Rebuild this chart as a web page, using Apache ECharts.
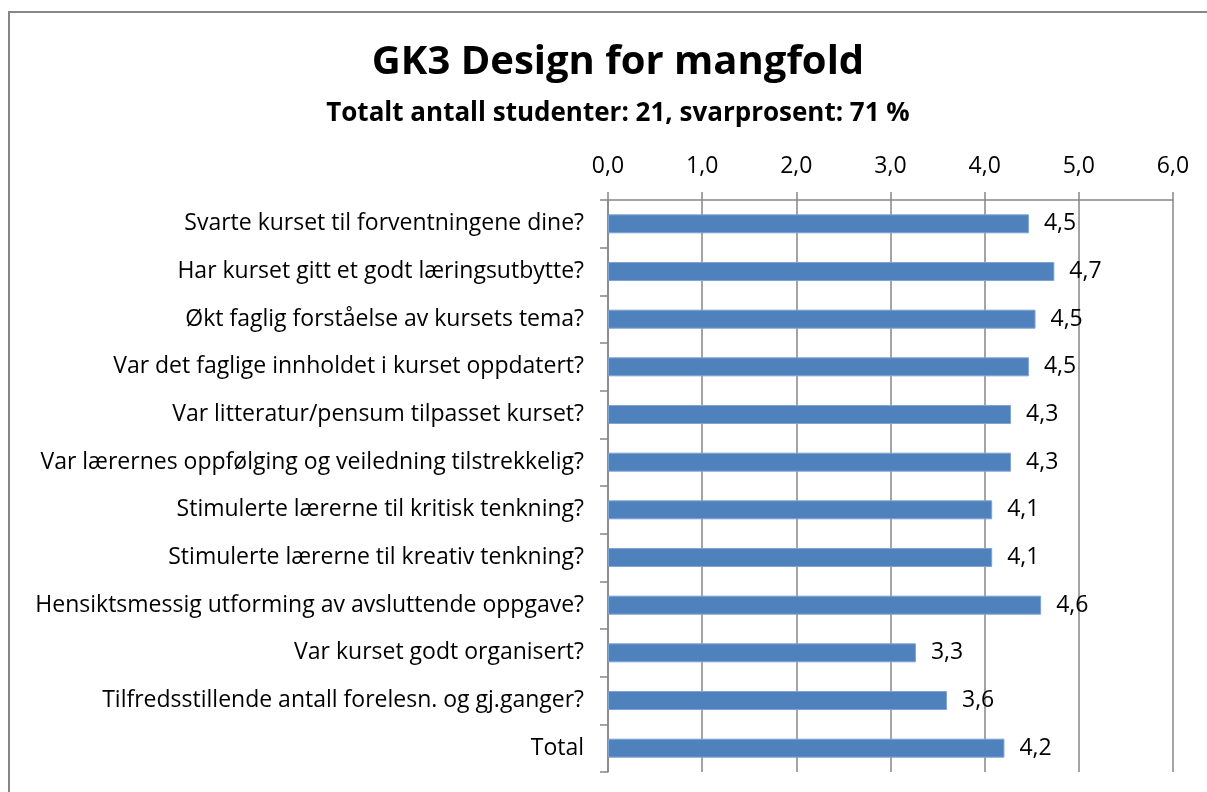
<!DOCTYPE html>
<html>
<head>
<meta charset="utf-8">
<script src="https://cdn.jsdelivr.net/npm/echarts@6/dist/echarts.min.js"></script>
<style>
  html, body { margin: 0; padding: 0; background: #fff; }
  #chart { width: 1207px; height: 792px; }
</style>
</head>
<body>
<div id="chart"></div>
<script>
var questions = [
    'Svarte kurset til forventningene dine?',
    'Har kurset gitt et godt læringsutbytte?',
    'Økt faglig forståelse av kursets tema?',
    'Var det faglige innholdet i kurset oppdatert?',
    'Var litteratur/pensum tilpasset kurset?',
    'Var lærernes oppfølging og veiledning tilstrekkelig?',
    'Stimulerte lærerne til kritisk tenkning?',
    'Stimulerte lærerne til kreativ tenkning?',
    'Hensiktsmessig utforming av avsluttende oppgave?',
    'Var kurset godt organisert?',
    'Tilfredsstillende antall forelesn. og gj.ganger?',
    'Total'
];
var scores = [4.47, 4.74, 4.54, 4.47, 4.28, 4.28, 4.08, 4.08, 4.60, 3.27, 3.60, 4.21];
var axisTicks = [0, 1, 2, 3, 4, 5, 6];

function comma(v) {
    return Number(v).toFixed(1).replace('.', ',');
}

var chart = echarts.init(document.getElementById('chart'));
var gray = '#868686';
var font = '"Open Sans", "Noto Sans", sans-serif';

var option = {
    backgroundColor: '#fff',
    textStyle: { fontFamily: font },
    title: {
        text: 'GK3 Design for mangfold',
        subtext: 'Totalt antall studenter: 21, svarprosent: 71 %',
        left: 613,
        textAlign: 'center',
        top: 38,
        itemGap: 18,
        textStyle: { fontSize: 40, fontWeight: 'bold', color: '#000', fontFamily: font },
        subtextStyle: { fontSize: 26, fontWeight: 'bold', color: '#000', fontFamily: font }
    },
    graphic: [{
        type: 'rect',
        shape: { x: 9, y: 12, width: 1300, height: 900 },
        style: { fill: null, stroke: gray, lineWidth: 2 },
        silent: true
    }],
    grid: { left: 608, right: 34, top: 200, bottom: 20 },
    xAxis: {
        type: 'value',
        position: 'top',
        min: axisTicks[0],
        max: axisTicks[axisTicks.length - 1],
        interval: 1,
        axisLine: { show: true, lineStyle: { color: gray, width: 1.5 } },
        axisTick: { show: true, length: 8, lineStyle: { color: gray, width: 1.5 } },
        splitLine: { show: true, lineStyle: { color: gray, width: 1.5 } },
        axisLabel: { fontSize: 23, color: '#000', margin: 22, formatter: comma }
    },
    yAxis: {
        type: 'category',
        inverse: true,
        data: questions,
        axisLine: { show: true, lineStyle: { color: gray, width: 1.5 } },
        axisTick: { show: true, length: 8, lineStyle: { color: gray, width: 1.5 } },
        axisLabel: { fontSize: 23, color: '#000', margin: 24 }
    },
    series: [{
        type: 'bar',
        data: scores,
        barWidth: 19,
        itemStyle: { color: '#4F81BD', borderColor: '#7FA3D2', borderWidth: 1 },
        label: {
            show: true,
            position: 'right',
            distance: 15,
            fontSize: 23,
            color: '#000',
            fontFamily: font,
            formatter: function (p) { return comma(p.value); }
        },
        silent: true,
        animation: false
    }],
    animation: false
};
chart.setOption(option);
</script>
</body>
</html>
